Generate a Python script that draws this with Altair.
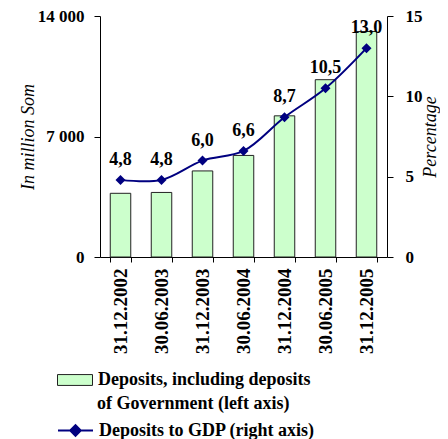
import altair as alt
import pandas as pd

dates = ["31.12.2002", "30.06.2003", "31.12.2003", "30.06.2004",
         "31.12.2004", "30.06.2005", "31.12.2005"]
deposits = [3700, 3750, 5000, 5900, 8200, 10300, 13100]
ratio = [4.8, 4.8, 6.0, 6.6, 8.7, 10.5, 13.0]
bar_name_1 = "Deposits, including deposits"
bar_name_2 = "of Government (left axis)"
line_name = "Deposits to GDP (right axis)"

df = pd.DataFrame({
    "date": dates,
    "deposits": deposits,
    "ratio": ratio,
    "bar_series": [bar_name_1] * len(dates),
    "bar_series_2": [bar_name_2] * len(dates),
    "line_series": [line_name] * len(dates),
})

FONT = "Liberation Serif"
NAVY = "#000080"

legend_common = dict(labelFont=FONT, labelFontSize=18, labelFontWeight="bold",
                     labelColor="black", labelLimit=400, labelOffset=5, padding=0,
                     orient="none", legendX=-43, symbolSize=1225)

x = alt.X("date:N", sort=dates, title=None,
          scale=alt.Scale(paddingInner=0.5, paddingOuter=0.25),
          axis=alt.Axis(labelAngle=-90, labelFont=FONT, labelFontSize=19,
                        labelFontWeight="bold", labelColor="black",
                        tickBand="extent", tickSize=5, tickColor="black",
                        domainColor="black", labelPadding=6))

bars = alt.Chart(df).mark_bar(stroke="#222", strokeWidth=1).encode(
    x=x,
    y=alt.Y("deposits:Q", title="In million Som",
            scale=alt.Scale(domain=[0, 14000]),
            axis=alt.Axis(values=[0, 7000, 14000], grid=False,
                          labelExpr="replace(format(datum.value, ','), ',', ' ')",
                          labelFont=FONT, labelFontSize=17, labelFontWeight="bold",
                          labelColor="black", tickColor="black", domainColor="black",
                          tickSize=6, labelPadding=10,
                          titleFont=FONT, titleFontSize=18, titleFontStyle="italic",
                          titleFontWeight="normal", titleColor="black", titlePadding=0)),
    fill=alt.Fill("bar_series:N", title=None,
                  scale=alt.Scale(range=["#ccffcc"]),
                  legend=alt.Legend(legendY=346,
                                    symbolType="M-1,-0.31H1V0.31H-1Z",
                                    symbolStrokeColor="#222", symbolStrokeWidth=1,
                                    **legend_common)),
    opacity=alt.Opacity("bar_series_2:N", title=None,
                        scale=alt.Scale(range=[1]),
                        legend=alt.Legend(legendY=370, symbolType="M-1,0L-1,0",
                                          symbolFillColor="transparent",
                                          symbolStrokeColor="transparent",
                                          symbolStrokeWidth=0, **legend_common)),
)

line = alt.Chart().mark_line(interpolate="catmull-rom", strokeWidth=2).encode(
    stroke=alt.Stroke("line_series:N", title=None,
                      scale=alt.Scale(range=[NAVY]),
                      legend=alt.Legend(legendY=396,
                                        symbolType="M-1,0H1M-0.3,0L0,-0.3L0.3,0L0,0.3Z",
                                        symbolStrokeWidth=2, symbolFillColor=NAVY,
                                        **legend_common)),
)
points = alt.Chart().mark_point(shape="diamond", filled=True, size=100, color=NAVY, opacity=1)
labels = alt.Chart().mark_text(dy=-20, font=FONT, fontSize=18, fontWeight="bold",
                               color="black").encode(
    text=alt.Text("lbl:N")
).transform_calculate(lbl="replace(format(datum.ratio, '.1f'), '.', ',')")

right = alt.layer(line, points, labels, data=df).encode(
    x=x,
    y=alt.Y("ratio:Q", title="Percentage",
            scale=alt.Scale(domain=[0, 15]),
            axis=alt.Axis(orient="right", values=[0, 5, 10, 15], grid=False,
                          labelFont=FONT, labelFontSize=17, labelFontWeight="bold",
                          labelColor="black", tickColor="black", domainColor="black",
                          tickSize=6, labelPadding=12,
                          titleFont=FONT, titleFontSize=18, titleFontStyle="italic",
                          titleFontWeight="normal", titleColor="black",
                          titleAngle=270, titlePadding=17)),
)

chart = alt.layer(bars, right).resolve_scale(
    y="independent", fill="independent", stroke="independent"
).properties(
    width=287, height=241,
    autosize=alt.AutoSizeParams(type="none"),
    padding={"left": 92, "top": 8, "right": 53, "bottom": 182},
).configure_view(stroke=None)

chart.save("out.html", embed_options={"renderer": "svg", "actions": False})
